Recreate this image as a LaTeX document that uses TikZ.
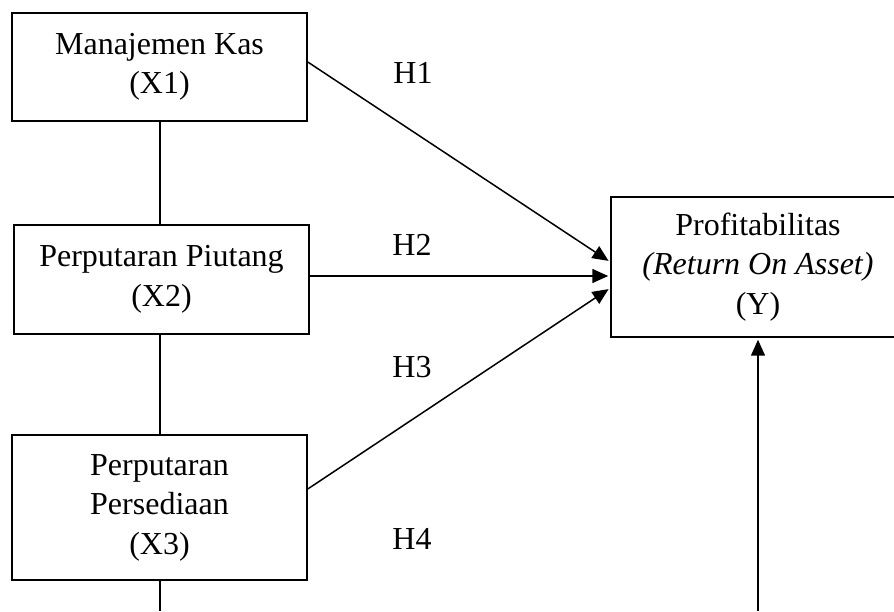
\documentclass[tikz,border=0pt]{standalone}
\usepackage{fontspec}
\setmainfont{Liberation Serif}
\usetikzlibrary{arrows.meta}
\begin{document}
\begin{tikzpicture}[x=1pt,y=1pt,
  varbox/.style={draw, line width=1.5pt, inner sep=0pt, align=center,
    font=\fontsize{32}{39.5}\selectfont},
  hlabel/.style={inner sep=0pt, font=\fontsize{32}{39.5}\selectfont},
  link/.style={line width=1.5pt},
  path arrow/.style={line width=1.5pt, shorten >=2pt, -{Triangle[length=16pt,width=14pt]}}
]
\useasboundingbox (0,0) rectangle (894,611);

\node[varbox, minimum width=295pt, minimum height=108pt] (x1) at (159.5,544) {Manajemen Kas\\(X1)};
\node[varbox, minimum width=295pt, minimum height=109pt] (x2) at (161.5,331.5) {Perputaran Piutang\\(X2)};
\node[varbox, minimum width=295pt, minimum height=145pt] (x3) at (159.5,103.5) {Perputaran\\Persediaan\\(X3)};
\node[varbox, minimum width=294pt, minimum height=140pt] (y) at (758,344) {Profitabilitas\\\textit{(Return On Asset)}\\(Y)};

\node[hlabel] (h1) at (413,538) {H1};
\node[hlabel] (h2) at (412,366) {H2};
\node[hlabel] (h3) at (412,244) {H3};
\node[hlabel] (h4) at (412,72) {H4};

\coordinate (x3end) at (160,0);
\coordinate (h4start) at (758,0);

\draw[link] (x1.south -| 160,0) -- (x2.north -| 160,0);
\draw[link] (x2.south -| 160,0) -- (x3.north -| 160,0);
\draw[link] (x3.south -| x3end) -- (x3end);

\draw[path arrow] ([yshift=5pt]x1.east) -- ([yshift=5pt]y.west);
\draw[path arrow] ([yshift=3.5pt]x2.east) -- ([yshift=-9pt]y.west);
\draw[path arrow] ([yshift=18.5pt]x3.east) -- ([yshift=-21pt]y.west);
\draw[path arrow] (h4start) -- (y.south -| h4start);
\end{tikzpicture}
\end{document}
